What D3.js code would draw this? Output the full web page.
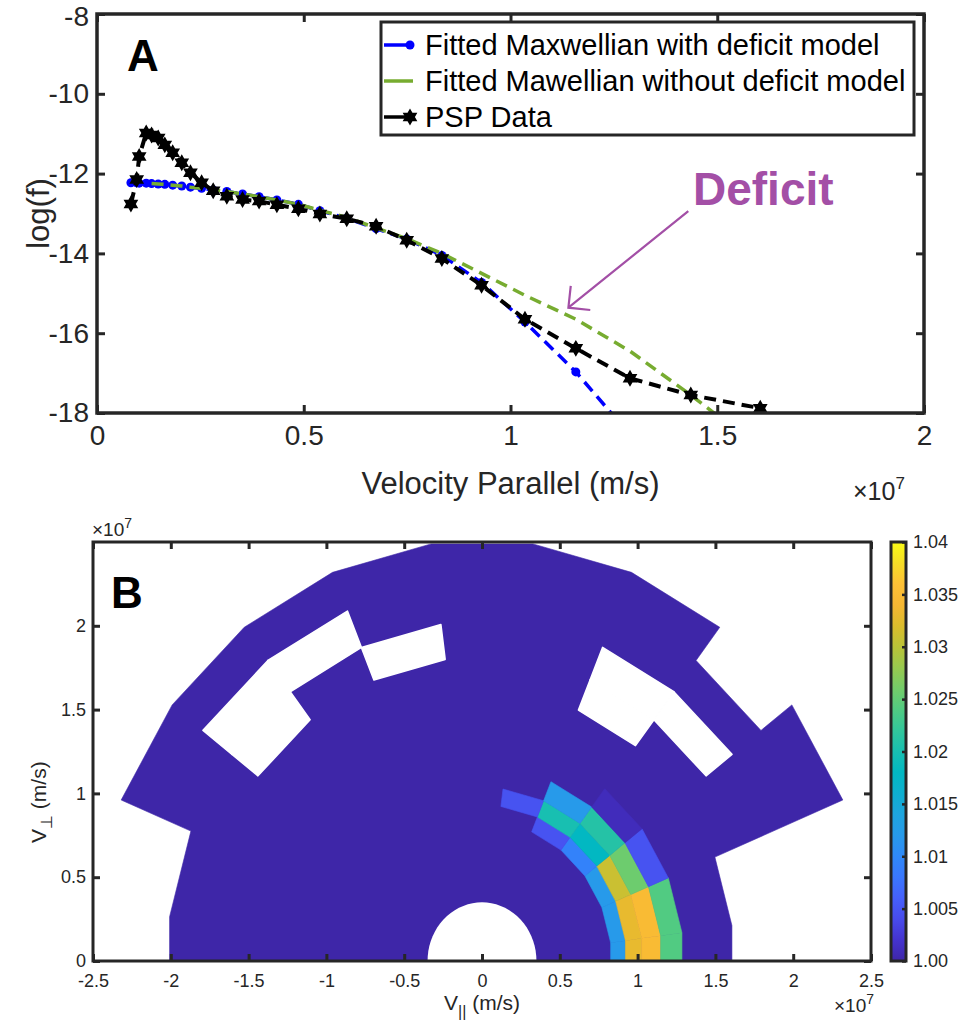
<!DOCTYPE html>
<html>
<head>
<meta charset="utf-8">
<script src="https://cdn.jsdelivr.net/npm/d3@7"></script>
<style>
  body { margin: 0; background: #fff; }
  svg { display: block; }
</style>
</head>
<body>
<svg width="963" height="1029"></svg>
<script>
// ---------------------------------------------------------
// Panel A data (velocity in units of 1e7 m/s, log10 of f)
const vPar = [0.082, 0.096, 0.102, 0.119, 0.132, 0.148, 0.164, 0.183, 0.205, 0.226,
              0.253, 0.281, 0.314, 0.352, 0.392, 0.435, 0.487, 0.539, 0.604, 0.675,
              0.749, 0.834, 0.930, 1.035, 1.158, 1.289, 1.436, 1.604];
const pspLogF = [-12.76, -12.15, -11.57, -10.98, -11.03, -11.11, -11.28, -11.48, -11.73, -11.98,
                 -12.23, -12.43, -12.57, -12.65, -12.69, -12.78, -12.88, -13.01, -13.13, -13.32,
                 -13.67, -14.13, -14.80, -15.65, -16.38, -17.13, -17.55, -17.88];
const fitDeficitLogF = [-12.23, -12.23, -12.24, -12.24, -12.25, -12.26, -12.27, -12.29, -12.31, -12.34,
                        -12.37, -12.41, -12.45, -12.51, -12.58, -12.66, -12.77, -12.93, -13.12, -13.38,
                        -13.64, -14.05, -14.73, -15.72, -16.97, -18.55, -20.6, -23.2];
const fitNoDeficitLogF = [null, null, null, null, -12.25, -12.26, -12.27, -12.29, -12.31, -12.34,
                          -12.37, -12.41, -12.45, -12.51, -12.58, -12.66, -12.77, -12.92, -13.10, -13.36,
                          -13.63, -14.00, -14.50, -15.05, -15.65, -16.45, -17.55, -18.9];
const legendLabels = ['Fitted Maxwellian with deficit model',
                      'Fitted Mawellian without deficit model',
                      'PSP Data'];
const xTicksA = [0, 0.5, 1, 1.5, 2];
const yTicksA = [-18, -16, -14, -12, -10, -8];
// arrow annotation, data coords [v, logf]
const arrowFrom = [1.430, -12.94];
const arrowTo = [1.140, -15.36];

// ---------------------------------------------------------
// Panel B data (polar cells: radius in 1e7 m/s, angle in degrees)
const fanEdge = [[-7.5, 1.62], [7.5, 1.62], [22.5, 1.62], [22.5, 2.51], [37.5, 2.51], [37.5, 2.26],
                 [52.5, 2.26], [52.5, 2.51], [67.5, 2.51], [82.5, 2.51], [97.5, 2.51], [112.5, 2.51],
                 [127.5, 2.51], [142.5, 2.51], [157.5, 2.51], [157.5, 2.025], [172.5, 2.025], [187.5, 2.025]];
const coreR = 0.35;
const emptyCells = [
    [2.025, 2.26, 112.5, 127.5],
    [2.025, 2.26, 127.5, 142.5],
    [1.815, 2.025, 127.5, 142.5],
    [1.815, 2.025, 97.5, 112.5],
    [1.62, 1.815, 52.5, 67.5],
    [1.815, 2.025, 52.5, 67.5],
    [1.815, 2.025, 37.5, 52.5]
];
const ringEdges = [0.834, 0.930, 1.035, 1.158, 1.296];
const angleEdges = [-7.5, 7.5, 22.5, 37.5, 52.5, 67.5, 82.5];
const deficitRatio = [
    [1.012, 1.012, 1.012, 1.0092, 1.0048, null],
    [1.033, 1.033, 1.031, 1.018, 1.020, 1.0048],
    [1.035, 1.035, 1.0256, 1.021, 1.012, null],
    [1.024, 1.024, 1.0048, 1.001, null, null]
];
const xTicksB = [-2.5, -2, -1.5, -1, -0.5, 0, 0.5, 1, 1.5, 2, 2.5];
const yTicksB = [0, 0.5, 1, 1.5, 2];
const cbTicks = [1.0, 1.005, 1.01, 1.015, 1.02, 1.025, 1.03, 1.035, 1.04];
const cbLabels = ['1.00', '1.005', '1.01', '1.015', '1.02', '1.025', '1.03', '1.035', '1.04'];

// parula colormap samples
const parula = ['#3E26A8', '#4433CE', '#484BEB', '#4560FB', '#3A77FE', '#2F89F8', '#279AEA',
                '#1EA5DE', '#0EAFD0', '#02B8C2', '#18BFB1', '#32C69B', '#51CB82', '#74CC69',
                '#98C94F', '#BAC338', '#DBBC2C', '#F6B733', '#FDC036', '#F6DD27', '#F9FB15'];

// ---------------------------------------------------------
const FONT = "'Liberation Sans', Arial, Helvetica, sans-serif";
const INK = '#262626';
const svg = d3.select('svg').attr('font-family', FONT);

function styleAxis(g, fs, lw) {
    g.attr('font-family', FONT).attr('font-size', fs);
    g.select('.domain').remove();
    g.selectAll('.tick line').attr('stroke', INK).attr('stroke-width', lw);
    g.selectAll('.tick text').attr('fill', INK);
}

// =========================================================
// PANEL A
const A = { left: 97, right: 924, top: 14, bottom: 413 };
const xA = d3.scaleLinear().domain([0, 2]).range([A.left, A.right]);
const yA = d3.scaleLinear().domain([-18, -8]).range([A.bottom, A.top]);

svg.append('clipPath').attr('id', 'clipA')
    .append('rect')
    .attr('x', A.left).attr('y', A.top)
    .attr('width', A.right - A.left).attr('height', A.bottom - A.top);

const plotA = svg.append('g').attr('clip-path', 'url(#clipA)');

function seriesLine(vals) {
    return d3.line()
        .defined((d, i) => vals[i] != null)
        .x((d, i) => xA(vPar[i]))
        .y((d, i) => yA(vals[i]))(vPar);
}

// hexagram marker
const hexagram = {
    draw(context, size) {
        const r = Math.sqrt(size);
        const ri = r / Math.sqrt(3);
        for (let i = 0; i < 12; i++) {
            const a = -Math.PI / 2 + i * Math.PI / 6;
            const rr = i % 2 ? ri : r;
            if (i === 0) context.moveTo(rr * Math.cos(a), rr * Math.sin(a));
            else context.lineTo(rr * Math.cos(a), rr * Math.sin(a));
        }
        context.closePath();
    }
};
const starPath = d3.symbol().type(hexagram).size(72)();

// blue: with deficit model
plotA.append('path')
    .attr('d', seriesLine(fitDeficitLogF))
    .attr('fill', 'none').attr('stroke', '#0000FF')
    .attr('stroke-width', 3.5).attr('stroke-dasharray', '12 7');
plotA.selectAll('.bdot')
    .data(vPar)
    .enter()
    .append('circle')
    .attr('class', 'bdot')
    .attr('cx', (d) => xA(d))
    .attr('cy', (d, i) => yA(fitDeficitLogF[i]))
    .attr('r', 4.5)
    .attr('fill', '#0000FF');

// green: without deficit model
plotA.append('path')
    .attr('d', seriesLine(fitNoDeficitLogF))
    .attr('fill', 'none').attr('stroke', '#77AC30')
    .attr('stroke-width', 3.5).attr('stroke-dasharray', '12 7');

// black: PSP data
plotA.append('path')
    .attr('d', seriesLine(pspLogF))
    .attr('fill', 'none').attr('stroke', '#000')
    .attr('stroke-width', 4).attr('stroke-dasharray', '12 7');
plotA.selectAll('.star')
    .data(vPar)
    .enter()
    .append('path')
    .attr('class', 'star')
    .attr('d', starPath)
    .attr('transform', (d, i) => `translate(${xA(d)},${yA(pspLogF[i])})`)
    .attr('fill', '#000');

// axes
const fmt = (d) => String(d);
styleAxis(svg.append('g').attr('transform', `translate(0,${A.bottom})`)
    .call(d3.axisBottom(xA).tickValues(xTicksA).tickFormat(fmt).tickSizeInner(-8).tickSizeOuter(0).tickPadding(12)), 28, 3);
styleAxis(svg.append('g').attr('transform', `translate(0,${A.top})`)
    .call(d3.axisTop(xA).tickValues(xTicksA).tickFormat('').tickSizeInner(-8).tickSizeOuter(0)), 28, 3);
const yAxisA = svg.append('g').attr('transform', `translate(${A.left},0)`)
    .call(d3.axisLeft(yA).tickValues(yTicksA).tickFormat(fmt).tickSizeInner(-8).tickSizeOuter(0).tickPadding(8));
styleAxis(yAxisA, 28, 3);
// keep the top label inside the page
yAxisA.selectAll('.tick text').filter((d) => d === -8).attr('dy', '0.42em');
styleAxis(svg.append('g').attr('transform', `translate(${A.right},0)`)
    .call(d3.axisRight(yA).tickValues(yTicksA).tickFormat('').tickSizeInner(-8).tickSizeOuter(0)), 28, 3);

svg.append('rect')
    .attr('x', A.left).attr('y', A.top)
    .attr('width', A.right - A.left).attr('height', A.bottom - A.top)
    .attr('fill', 'none').attr('stroke', INK).attr('stroke-width', 3.5);

// labels
svg.append('text')
    .attr('x', (A.left + A.right) / 2).attr('y', 494)
    .attr('text-anchor', 'middle').attr('font-size', 31).attr('fill', INK)
    .text('Velocity Parallel (m/s)');
svg.append('text')
    .attr('transform', `translate(49,${(A.top + A.bottom) / 2}) rotate(-90)`)
    .attr('text-anchor', 'middle').attr('font-size', 31).attr('fill', INK)
    .text('log(f)');
const expA = svg.append('text').attr('x', 853).attr('y', 500).attr('font-size', 25).attr('fill', INK);
expA.append('tspan').text('\u00d710');
expA.append('tspan').attr('dy', -11).attr('font-size', 17).text('7');

svg.append('text')
    .attr('x', 127).attr('y', 71)
    .attr('font-size', 44).attr('font-weight', 'bold').attr('fill', '#000')
    .text('A');

// legend
const lg = svg.append('g');
lg.append('rect')
    .attr('x', 381).attr('y', 22).attr('width', 533).attr('height', 113)
    .attr('fill', '#fff').attr('stroke', INK).attr('stroke-width', 3);
const lgColors = ['#0000FF', '#77AC30', '#000'];
lgColors.forEach((c, i) => {
    const yy = 45 + i * 36;
    lg.append('line')
        .attr('x1', 384).attr('x2', 413).attr('y1', yy).attr('y2', yy)
        .attr('stroke', c).attr('stroke-width', 3.5);
    if (i === 0) {
        lg.append('circle').attr('cx', 410).attr('cy', yy).attr('r', 4.5).attr('fill', c);
    }
    if (i === 2) {
        lg.append('path').attr('d', starPath).attr('transform', `translate(410,${yy})`).attr('fill', c);
    }
    lg.append('text')
        .attr('x', 425).attr('y', yy + 10)
        .attr('font-size', 29).attr('fill', '#000')
        .text(legendLabels[i]);
});

// Deficit annotation
const DEF = '#A34FA6';
svg.append('text')
    .attr('x', 693).attr('y', 205)
    .attr('font-size', 46).attr('font-weight', 'bold').attr('fill', DEF)
    .text('Deficit');
const ax0 = xA(arrowFrom[0]), ay0 = yA(arrowFrom[1]);
const ax1 = xA(arrowTo[0]), ay1 = yA(arrowTo[1]);
const ang = Math.atan2(ay0 - ay1, ax0 - ax1);
const headLen = 22;
svg.append('path')
    .attr('d', `M${ax0},${ay0}L${ax1},${ay1}` +
        `M${ax1 + headLen * Math.cos(ang - Math.PI / 4)},${ay1 + headLen * Math.sin(ang - Math.PI / 4)}L${ax1},${ay1}` +
        `L${ax1 + headLen * Math.cos(ang + Math.PI / 4)},${ay1 + headLen * Math.sin(ang + Math.PI / 4)}`)
    .attr('fill', 'none').attr('stroke', DEF).attr('stroke-width', 2.2);

// =========================================================
// PANEL B
const B = { left: 93, right: 871, top: 542, bottom: 961 };
const xB = d3.scaleLinear().domain([-2.5, 2.5]).range([B.left, B.right]);
const yB = d3.scaleLinear().domain([0, 2.5]).range([B.bottom, B.top]);
const color = d3.scaleLinear()
    .domain(parula.map((c, i) => 1.0 + 0.04 * i / (parula.length - 1)))
    .range(parula)
    .clamp(true);

const toXY = (deg, r) => [xB(r * Math.cos(deg * Math.PI / 180)), yB(r * Math.sin(deg * Math.PI / 180))];
const cellPath = (r0, r1, a0, a1) =>
    d3.line()([toXY(a0, r0), toXY(a0, r1), toXY(a1, r1), toXY(a1, r0)]) + 'Z';

svg.append('clipPath').attr('id', 'clipB')
    .append('rect')
    .attr('x', B.left).attr('y', B.top)
    .attr('width', B.right - B.left).attr('height', B.bottom - B.top);
const plotB = svg.append('g').attr('clip-path', 'url(#clipB)');

// background fan
plotB.append('path')
    .attr('d', d3.line()(fanEdge.map((d) => toXY(d[0], d[1]))) + 'Z')
    .attr('fill', color(1.0)).attr('stroke', color(1.0)).attr('stroke-width', 0.6);

// empty cells
plotB.selectAll('.empty')
    .data(emptyCells)
    .enter()
    .append('path')
    .attr('class', 'empty')
    .attr('d', (d) => cellPath(d[0], d[1], d[2], d[3]))
    .attr('fill', '#fff').attr('stroke', '#fff').attr('stroke-width', 1.6)
    .attr('stroke-linejoin', 'round');

// inner core (no data)
const coreAngles = d3.range(0, 180.01, 5);
plotB.append('path')
    .attr('d', d3.line()(coreAngles.map((a) => toXY(a, coreR))) + 'Z')
    .attr('fill', '#fff');

// deficit ratio cells
const cells = [];
deficitRatio.forEach((row, i) => {
    row.forEach((v, j) => {
        if (v != null) cells.push({ r0: ringEdges[i], r1: ringEdges[i + 1], a0: angleEdges[j], a1: angleEdges[j + 1], v: v });
    });
});
plotB.selectAll('.cell')
    .data(cells)
    .enter()
    .append('path')
    .attr('class', 'cell')
    .attr('d', (d) => cellPath(d.r0, d.r1, d.a0, d.a1))
    .attr('fill', (d) => color(d.v))
    .attr('stroke', (d) => color(d.v)).attr('stroke-width', 0.6);

// axes
styleAxis(svg.append('g').attr('transform', `translate(0,${B.bottom})`)
    .call(d3.axisBottom(xB).tickValues(xTicksB).tickFormat(fmt).tickSizeInner(-7).tickSizeOuter(0).tickPadding(13)), 18, 3);
styleAxis(svg.append('g').attr('transform', `translate(0,${B.top})`)
    .call(d3.axisTop(xB).tickValues(xTicksB).tickFormat('').tickSizeInner(-7).tickSizeOuter(0)), 18, 3);
styleAxis(svg.append('g').attr('transform', `translate(${B.left},0)`)
    .call(d3.axisLeft(yB).tickValues(yTicksB).tickFormat(fmt).tickSizeInner(-7).tickSizeOuter(0).tickPadding(7)), 18, 3);
styleAxis(svg.append('g').attr('transform', `translate(${B.right},0)`)
    .call(d3.axisRight(yB).tickValues(yTicksB).tickFormat('').tickSizeInner(-7).tickSizeOuter(0)), 18, 3);

svg.append('rect')
    .attr('x', B.left).attr('y', B.top)
    .attr('width', B.right - B.left).attr('height', B.bottom - B.top)
    .attr('fill', 'none').attr('stroke', INK).attr('stroke-width', 3);

// axis labels
const xl = svg.append('text')
    .attr('x', (B.left + B.right) / 2).attr('y', 1010)
    .attr('text-anchor', 'middle').attr('font-size', 21).attr('fill', INK);
xl.append('tspan').text('V');
xl.append('tspan').attr('dy', 7).attr('font-size', 16).text('||');
xl.append('tspan').attr('dy', -7).text(' (m/s)');

const yl = svg.append('text')
    .attr('transform', 'translate(46,843) rotate(-90)')
    .attr('font-size', 21).attr('fill', INK);
yl.append('tspan').text('V');
yl.append('tspan').attr('dy', 6).attr('font-size', 16).text('\u22a5');
yl.append('tspan').attr('dy', -6).text(' (m/s)');

[[92, 536], [834, 1012]].forEach((p) => {
    const t = svg.append('text').attr('x', p[0]).attr('y', p[1]).attr('font-size', 19).attr('fill', INK);
    t.append('tspan').text('\u00d710');
    t.append('tspan').attr('dy', -8).attr('font-size', 14).text('7');
});

svg.append('text')
    .attr('x', 111).attr('y', 608)
    .attr('font-size', 44).attr('font-weight', 'bold').attr('fill', '#000')
    .text('B');

// colorbar
const CB = { left: 891, right: 906, top: 542, bottom: 961 };
const yCB = d3.scaleLinear().domain([1.0, 1.04]).range([CB.bottom, CB.top]);
const grad = svg.append('defs').append('linearGradient')
    .attr('id', 'parulaGrad')
    .attr('x1', 0).attr('y1', 1).attr('x2', 0).attr('y2', 0);
grad.selectAll('stop')
    .data(parula)
    .enter()
    .append('stop')
    .attr('offset', (d, i) => i / (parula.length - 1))
    .attr('stop-color', (d) => d);
svg.append('rect')
    .attr('x', CB.left).attr('y', CB.top)
    .attr('width', CB.right - CB.left).attr('height', CB.bottom - CB.top)
    .attr('fill', 'url(#parulaGrad)');
styleAxis(svg.append('g').attr('transform', `translate(${CB.right},0)`)
    .call(d3.axisRight(yCB).tickValues(cbTicks).tickFormat((d, i) => cbLabels[i]).tickSizeInner(-4).tickSizeOuter(0).tickPadding(7)), 18, 2.5);
svg.append('rect')
    .attr('x', CB.left).attr('y', CB.top)
    .attr('width', CB.right - CB.left).attr('height', CB.bottom - CB.top)
    .attr('fill', 'none').attr('stroke', INK).attr('stroke-width', 3);
</script>
</body>
</html>
